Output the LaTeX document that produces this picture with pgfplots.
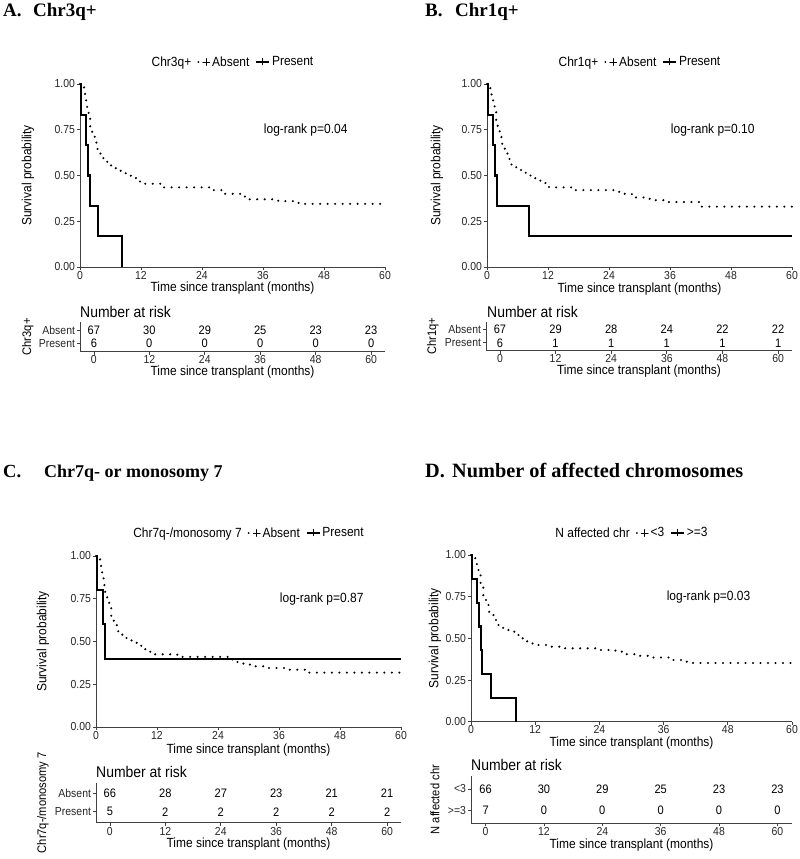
\documentclass[border=0pt]{standalone}
\usepackage{fontspec}
\setmainfont{Liberation Sans}[FakeStretch=0.9]
\newfontfamily\titlefont{Liberation Serif}
\usepackage{pgfplots}
\pgfplotsset{compat=1.18}

\pgfplotsset{
  common/.style={
    scale only axis, axis lines*=left, enlargelimits=false, clip=false,
    axis line style={black!75, line width=0.8pt, -},
    every tick/.style={black!75, line width=0.7pt},
    tick align=outside, major tick length=3pt,
    xtick={0,12,24,36,48,60}, xticklabels={0,12,24,36,48,60},
    tick label style={font=\fontsize{11.6}{13}\selectfont, text=black!85},
    xticklabel style={inner sep=1pt},
    yticklabel style={xshift=1.5pt},
    xlabel={Time since transplant (months)},
    label style={font=\fontsize{13.3}{15}\selectfont, inner sep=1pt},
  },
  km/.style={common, xmin=0, xmax=60, ymin=0, ymax=1,
    ytick={0,0.25,0.5,0.75,1}, yticklabels={0.00,0.25,0.50,0.75,1.00},
    ylabel={Survival probability},
    legend style={at={(axis description cs:0.5,1)}, anchor=center, yshift=22pt,
      draw=none, fill=none, legend columns=-1, inner sep=0pt,
      font=\fontsize{13.3}{15}\selectfont,
      /tikz/every even column/.append style={column sep=4pt}},
  },
  risk/.style={common, xmin=-3, xmax=63, ymin=0.4, ymax=2.6, ytick={1,2},
    y label style={font=\fontsize{12.4}{14}\selectfont}},
  absent/.style={const plot, black, line width=2.4pt, dash pattern=on 0pt off 7.5pt, line cap=round,
    legend image code/.code={
      \draw[black, line width=2pt, dash pattern=on 0pt off 4pt, line cap=round] (0pt,0pt) -- (4pt,0pt);
      \draw[black, solid, line width=0.8pt] (8pt,-3.5pt) -- (8pt,3.5pt) (4.5pt,0pt) -- (11.5pt,0pt);}},
  present/.style={const plot, black, line width=2.1pt,
    legend image code/.code={
      \draw[black, solid, line width=1.6pt] (0pt,0pt) -- (13pt,0pt);
      \draw[black, solid, line width=0.8pt] (6.5pt,-3.5pt) -- (6.5pt,3.5pt);}},
  counts/.style={only marks, mark=none, nodes near coords, point meta=explicit symbolic,
    nodes near coords align=center,
    every node near coord/.append style={font=\fontsize{12.3}{14}\selectfont, text=black}},
}

\begin{document}
\begin{tikzpicture}
\useasboundingbox (0pt,0pt) rectangle (800pt,859pt);

% ---------- Titles ----------
\node[anchor=base west, inner sep=0pt] at (3pt,842pt) {\titlefont\bfseries\fontsize{19}{21}\selectfont A.};
\node[anchor=base west, inner sep=0pt] at (33pt,842pt) {\titlefont\bfseries\fontsize{19}{21}\selectfont Chr3q+};
\node[anchor=base west, inner sep=0pt] at (425pt,842pt) {\titlefont\bfseries\fontsize{19}{21}\selectfont B.};
\node[anchor=base west, inner sep=0pt] at (455pt,842pt) {\titlefont\bfseries\fontsize{19}{21}\selectfont Chr1q+};
\node[anchor=base west, inner sep=0pt] at (3pt,381pt) {\titlefont\bfseries\fontsize{18.5}{21}\selectfont C.};
\node[anchor=base west, inner sep=0pt] at (44pt,381pt) {\titlefont\bfseries\fontsize{18}{21}\selectfont Chr7q- or monosomy 7};
\node[anchor=base west, inner sep=0pt] at (425pt,381pt) {\titlefont\bfseries\fontsize{20.3}{22}\selectfont D.};
\node[anchor=base west, inner sep=0pt] at (452pt,381pt) {\titlefont\bfseries\fontsize{20.3}{22}\selectfont Number of affected chromosomes};

% ---------- Number at risk headings ----------
\node[anchor=west, inner sep=0pt, font=\fontsize{15.5}{17}\selectfont] at (80pt,547pt) {Number at risk};
\node[anchor=west, inner sep=0pt, font=\fontsize{15.5}{17}\selectfont] at (487pt,547pt) {Number at risk};
\node[anchor=west, inner sep=0pt, font=\fontsize{15.5}{17}\selectfont] at (96pt,87.3pt) {Number at risk};
\node[anchor=west, inner sep=0pt, font=\fontsize{15.5}{17}\selectfont] at (471pt,94pt) {Number at risk};

% ================= Panel A =================
\begin{axis}[km, at={(80pt,592pt)}, anchor=south west, width=305pt, height=183pt,
  x label style={at={([yshift=-21pt]axis description cs:0.5,0)}, anchor=center},
  y label style={at={([xshift=-52pt]axis description cs:0,0.5)}, anchor=center}]
\addlegendimage{empty legend}\addlegendentry{Chr3q+}
\addplot[absent] coordinates {(0,1)(0.8,0.97)(1.0,0.94)(1.2,0.90)(1.4,0.86)(1.7,0.81)(2.0,0.76)(2.4,0.72)(2.9,0.68)(3.4,0.645)(3.9,0.62)(4.5,0.595)(5.2,0.575)(6,0.555)(7,0.54)(8,0.525)(9,0.505)(10,0.49)(11,0.47)(11.8,0.455)(16,0.435)(26,0.42)(28.5,0.40)(31.5,0.385)(32.5,0.37)(39,0.36)(42,0.35)(44,0.345)(60,0.345)};
\addlegendentry{Absent}
\addplot[present] coordinates {(0,1)(0.2,0.833)(1.2,0.667)(1.6,0.5)(2.0,0.333)(3.6,0.167)(8.3,0)};
\addlegendentry{Present}
\node[font=\fontsize{13.3}{15}\selectfont] at (axis cs:44.4,0.75) {log-rank p=0.04};
\end{axis}

\begin{axis}[risk, at={(80pt,507.3pt)}, anchor=south west, width=305pt, height=29.7pt,
  yticklabels={Present,Absent}, ylabel={Chr3q+},
  x label style={at={([yshift=-20.5pt]axis description cs:0.5,0)}, anchor=center},
  y label style={at={([xshift=-52pt]axis description cs:0,0.5)}, anchor=center}]
\addplot[counts] table[meta=n] {
x y n
0 2 67
12 2 30
24 2 29
36 2 25
48 2 23
60 2 23
0 1 6
12 1 0
24 1 0
36 1 0
48 1 0
60 1 0
};
\end{axis}

% ================= Panel B =================
\begin{axis}[km, at={(487pt,592pt)}, anchor=south west, width=305pt, height=183pt,
  x label style={at={([yshift=-22pt]axis description cs:0.5,0)}, anchor=center},
  y label style={at={([xshift=-50pt]axis description cs:0,0.5)}, anchor=center}]
\addlegendimage{empty legend}\addlegendentry{Chr1q+}
\addplot[absent] coordinates {(0,1)(0.65,0.97)(0.9,0.94)(1.2,0.90)(1.5,0.85)(1.8,0.80)(2.1,0.75)(2.5,0.71)(3.0,0.66)(3.5,0.62)(4.1,0.59)(4.7,0.56)(5.5,0.545)(6.5,0.53)(7.5,0.515)(8.5,0.50)(9.5,0.485)(10.5,0.465)(11.5,0.45)(12.2,0.435)(17,0.42)(26,0.40)(28.5,0.38)(32,0.365)(35,0.355)(42,0.33)(60,0.33)};
\addlegendentry{Absent}
\addplot[present] coordinates {(0,1)(0.2,0.833)(1.2,0.667)(1.6,0.5)(2.0,0.333)(8.3,0.167)(60,0.167)};
\addlegendentry{Present}
\node[font=\fontsize{13.3}{15}\selectfont] at (axis cs:44.4,0.75) {log-rank p=0.10};
\end{axis}

\begin{axis}[risk, at={(486pt,508.3pt)}, anchor=south west, width=306pt, height=29pt,
  yticklabels={Present,Absent}, ylabel={Chr1q+},
  x label style={at={([yshift=-20.5pt]axis description cs:0.5,0)}, anchor=center},
  y label style={at={([xshift=-53pt]axis description cs:0,0.5)}, anchor=center}]
\addplot[counts] table[meta=n] {
x y n
0 2 67
12 2 29
24 2 28
36 2 24
48 2 22
60 2 22
0 1 6
12 1 1
24 1 1
36 1 1
48 1 1
60 1 1
};
\end{axis}

% ================= Panel C =================
\begin{axis}[km, at={(96pt,132pt)}, anchor=south west, width=305pt, height=171pt,
  legend style={yshift=1pt},
  x label style={at={([yshift=-23pt]axis description cs:0.5,0)}, anchor=center},
  y label style={at={([xshift=-53pt]axis description cs:0,0.5)}, anchor=center}]
\addlegendimage{empty legend}\addlegendentry{Chr7q-/monosomy 7}
\addplot[absent] coordinates {(0,1)(0.8,0.97)(1.0,0.92)(1.2,0.88)(1.5,0.83)(1.8,0.79)(2.2,0.75)(2.6,0.70)(3.0,0.65)(3.5,0.60)(4.1,0.56)(5.0,0.54)(6.0,0.52)(7.0,0.50)(8.0,0.475)(9.0,0.455)(10.0,0.44)(11.0,0.425)(16,0.41)(26,0.395)(27.5,0.38)(29,0.365)(31,0.355)(33,0.345)(38,0.335)(41.5,0.318)(60,0.318)};
\addlegendentry{Absent}
\addplot[present] coordinates {(0,1)(0.2,0.8)(1.3,0.6)(1.7,0.4)(60,0.4)};
\addlegendentry{Present}
\node[font=\fontsize{13.3}{15}\selectfont] at (axis cs:44.4,0.75) {log-rank p=0.87};
\end{axis}

\begin{axis}[risk, at={(96pt,36.3pt)}, anchor=south west, width=305pt, height=40pt,
  yticklabels={Present,Absent}, ylabel={Chr7q-/monosomy 7},
  x label style={at={([yshift=-21.3pt]axis description cs:0.5,0)}, anchor=center},
  y label style={at={([xshift=-53pt]axis description cs:0,0.5)}, anchor=center}]
\addplot[counts] table[meta=n] {
x y n
0 2 66
12 2 28
24 2 27
36 2 23
48 2 21
60 2 21
0 1 5
12 1 2
24 1 2
36 1 2
48 1 2
60 1 2
};
\end{axis}

% ================= Panel D =================
\begin{axis}[km, at={(471pt,137.3pt)}, anchor=south west, width=321pt, height=166.7pt,
  x label style={at={([yshift=-21.3pt]axis description cs:0.5,0)}, anchor=center},
  y label style={at={([xshift=-36pt]axis description cs:0,0.5)}, anchor=center}]
\addlegendimage{empty legend}\addlegendentry{N affected chr}
\addplot[absent] coordinates {(0,1)(0.8,0.97)(1.1,0.93)(1.4,0.88)(1.8,0.81)(2.3,0.75)(2.8,0.70)(3.4,0.65)(4.2,0.61)(5.0,0.58)(6.0,0.555)(7.0,0.54)(8.5,0.52)(9.5,0.50)(10.5,0.48)(11.5,0.46)(14.5,0.45)(17,0.44)(24,0.43)(27,0.42)(29,0.405)(31,0.395)(34,0.385)(37.5,0.37)(40,0.36)(41.5,0.352)(60,0.352)};
\addlegendentry{<3}
\addplot[present] coordinates {(0,1)(0.2,0.857)(1.2,0.714)(1.5,0.571)(1.8,0.429)(2.1,0.286)(3.7,0.143)(8.35,0)};
\addlegendentry{>=3}
\node[font=\fontsize{13.3}{15}\selectfont] at (axis cs:44.4,0.75) {log-rank p=0.03};
\end{axis}

\begin{axis}[risk, at={(471pt,35.7pt)}, anchor=south west, width=321pt, height=47.3pt,
  yticklabels={>=3,<3}, ylabel={N affected chr},
  x label style={at={([yshift=-21.7pt]axis description cs:0.5,0)}, anchor=center},
  y label style={at={([xshift=-36pt]axis description cs:0,0.5)}, anchor=center}]
\addplot[counts] table[meta=n] {
x y n
0 2 66
12 2 30
24 2 29
36 2 25
48 2 23
60 2 23
0 1 7
12 1 0
24 1 0
36 1 0
48 1 0
60 1 0
};
\end{axis}
\end{tikzpicture}
\end{document}
